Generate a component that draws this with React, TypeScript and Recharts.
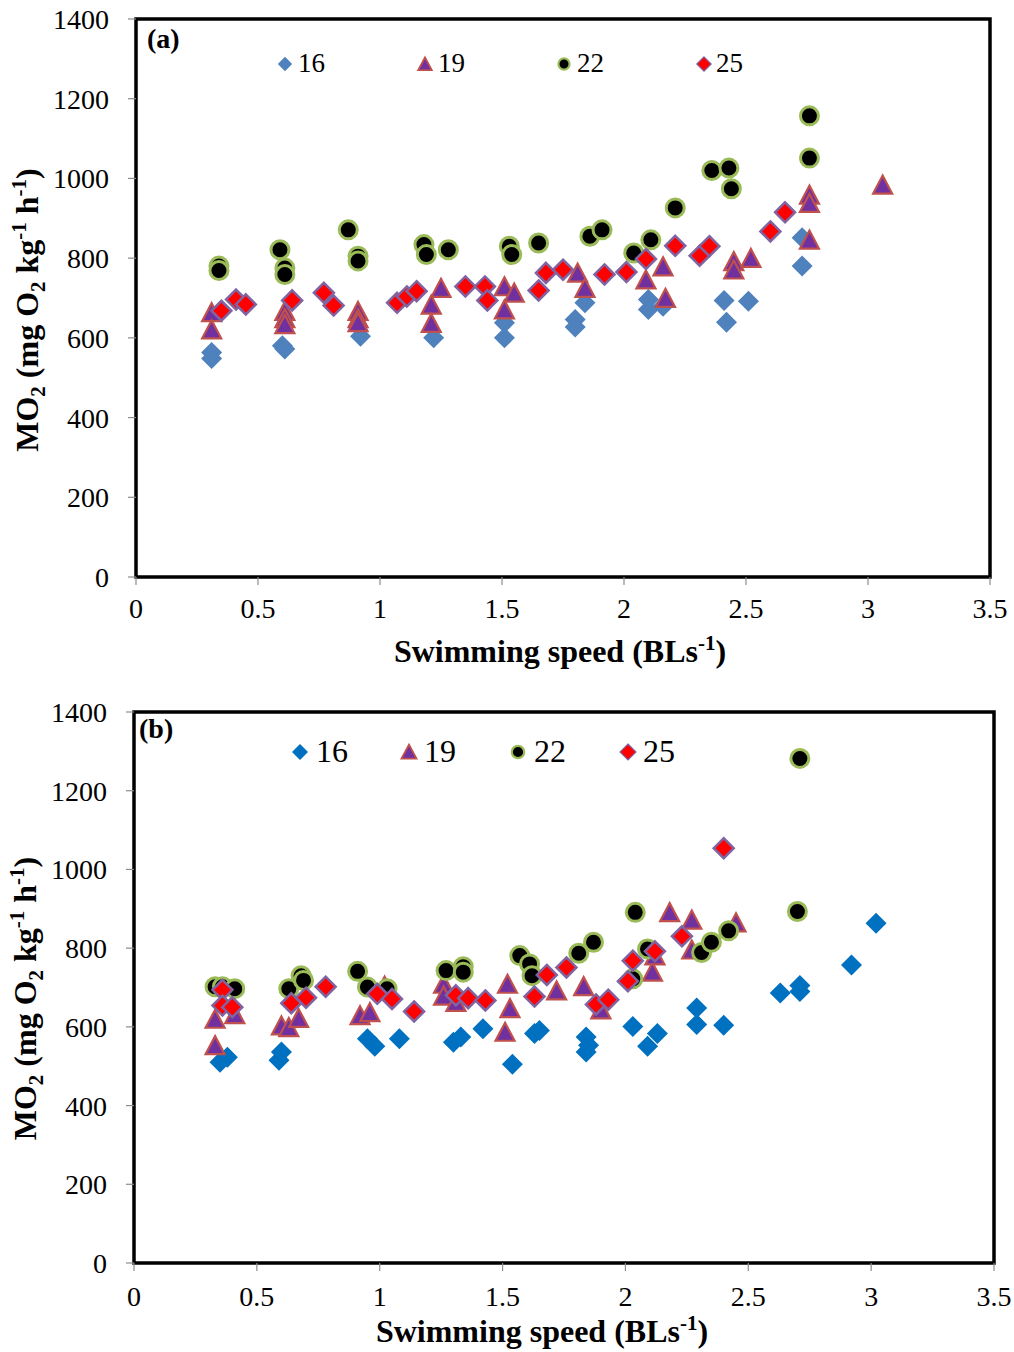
import React from 'react';
import { ScatterChart, Scatter, XAxis, YAxis, ReferenceArea, Legend } from 'recharts';

const X_TICKS = [0, 0.5, 1, 1.5, 2, 2.5, 3, 3.5];
const Y_TICKS = [0, 200, 400, 600, 800, 1000, 1200, 1400];
const SERIES_NAMES = ['16', '19', '22', '25'];

// Panel (a)
const A16 = [[0.31,563],[0.31,548],[0.60,580],[0.61,572],[0.92,604],[1.22,600],[1.51,600],[1.51,638],[1.80,646],[1.80,627],[1.84,688],[2.10,696],[2.10,671],[2.16,679],[2.41,694],[2.42,639],[2.51,692],[2.73,851],[2.73,780]];
const A19 = [[0.31,660],[0.31,617],[0.61,663],[0.61,645],[0.61,630],[0.91,663],[0.91,645],[0.91,635],[1.21,679],[1.21,633],[1.25,721],[1.51,725],[1.51,667],[1.55,709],[1.81,759],[1.84,721],[2.09,742],[2.16,775],[2.17,696],[2.45,788],[2.45,767],[2.52,796],[2.76,955],[2.76,934],[2.76,842],[3.06,980]];
const A22 = [[0.34,780],[0.34,769],[0.59,821],[0.61,775],[0.61,759],[0.87,871],[0.91,805],[0.91,793],[1.18,834],[1.19,809],[1.28,821],[1.53,830],[1.54,809],[1.65,838],[1.86,855],[1.91,871],[2.04,813],[2.11,846],[2.21,926],[2.36,1020],[2.43,1026],[2.44,974],[2.76,1157],[2.76,1051]];
const A25 = [[0.35,668],[0.41,696],[0.45,684],[0.64,694],[0.77,713],[0.81,681],[1.07,688],[1.11,704],[1.15,717],[1.35,729],[1.43,729],[1.44,694],[1.65,719],[1.68,763],[1.75,771],[1.92,759],[2.01,765],[2.09,798],[2.21,831],[2.31,806],[2.35,830],[2.60,867],[2.66,915]];

// Panel (b)
const B16 = [[0.35,510],[0.38,523],[0.59,515],[0.60,536],[0.95,570],[0.98,551],[1.08,570],[1.30,561],[1.33,574],[1.42,595],[1.54,505],[1.63,583],[1.65,591],[1.84,574],[1.85,553],[1.84,536],[2.03,601],[2.09,551],[2.13,583],[2.29,648],[2.29,606],[2.40,604],[2.63,686],[2.71,705],[2.71,690],[2.92,757],[3.02,863]];
const B19 = [[0.33,616],[0.33,549],[0.41,628],[0.60,599],[0.63,595],[0.67,618],[0.92,625],[0.96,633],[1.02,700],[1.26,705],[1.26,675],[1.31,659],[1.52,705],[1.53,643],[1.51,583],[1.72,688],[1.83,699],[1.90,640],[2.11,736],[2.12,777],[2.18,887],[2.27,868],[2.27,792],[2.45,861]];
const B22 = [[0.33,702],[0.36,702],[0.41,697],[0.63,697],[0.68,730],[0.69,718],[0.91,741],[0.95,701],[1.03,697],[1.27,743],[1.34,753],[1.34,739],[1.57,781],[1.61,760],[1.62,730],[1.81,787],[1.87,815],[2.04,891],[2.09,798],[2.03,722],[2.31,789],[2.35,815],[2.42,844],[2.70,893],[2.71,1282]];
const B25 = [[0.36,694],[0.36,654],[0.40,650],[0.64,660],[0.70,674],[0.78,702],[0.99,684],[1.05,671],[1.14,639],[1.31,680],[1.36,673],[1.43,667],[1.63,677],[1.68,732],[1.76,751],[1.88,657],[1.93,669],[2.01,716],[2.03,768],[2.12,792],[2.23,830],[2.40,1054]];

const toPts = (arr: number[][]) => arr.map(([x, y]) => ({ x, y }));

const FONT = '"Liberation Serif", "Times New Roman", serif';

const PURPLE = '#7030A0';
const TRI_STROKE = '#C0504D';
const GREEN = '#9BBB59';
const RED = '#FF0000';
const RED_STROKE = '#8064A2';

const diamondPath = (cx: number, cy: number, r: number) =>
  `M${cx},${cy - r}L${cx + r},${cy}L${cx},${cy + r}L${cx - r},${cy}Z`;
const triPath = (cx: number, cy: number, w: number, h: number) =>
  `M${cx},${cy - h * 0.6}L${cx + w / 2},${cy + h * 0.4}L${cx - w / 2},${cy + h * 0.4}Z`;

const makeBlue = (color: string) => (p: any) => (
  <path d={diamondPath(p.cx, p.cy, 10.5)} fill={color} stroke="none" />
);
const TriShape = (p: any) => (
  <path d={triPath(p.cx, p.cy, 19, 18)} fill={PURPLE} stroke={TRI_STROKE} strokeWidth={2.2} strokeLinejoin="miter" />
);
const CircShape = (p: any) => (
  <circle cx={p.cx} cy={p.cy} r={9} fill="#000" stroke={GREEN} strokeWidth={3} />
);
const RedShape = (p: any) => (
  <path d={diamondPath(p.cx, p.cy, 10)} fill={RED} stroke={RED_STROKE} strokeWidth={2.5} />
);

const TITLE_FS = 32;
const SUB_FS = 21;

const makeXTitle = (dx: number, dy: number) => (props: any) => {
  const vb = props.viewBox || { x: 0, y: 0, width: 0 };
  return (
    <text x={vb.x + vb.width / 2 + dx} y={vb.y + dy} textAnchor="middle" fontFamily={FONT} fontWeight="bold" fontSize={TITLE_FS} fill="#000">
      Swimming speed (BLs<tspan dy={-12} fontSize={SUB_FS}>-1</tspan><tspan dy={12}>)</tspan>
    </text>
  );
};

const makeYTitle = (cx: number, dy: number) => (props: any) => {
  const vb = props.viewBox || { x: 0, y: 0, height: 0 };
  const cy = vb.y + vb.height / 2 + dy;
  return (
    <text transform={`translate(${cx},${cy}) rotate(-90)`} x={0} y={0} textAnchor="middle" fontFamily={FONT} fontWeight="bold" fontSize={TITLE_FS} fill="#000">
      MO<tspan dy={7} fontSize={SUB_FS}>2</tspan><tspan dy={-7}> (mg O</tspan><tspan dy={7} fontSize={SUB_FS}>2</tspan><tspan dy={-7}> kg</tspan><tspan dy={-12} fontSize={SUB_FS}>-1</tspan><tspan dy={12}> h</tspan><tspan dy={-12} fontSize={SUB_FS}>-1</tspan><tspan dy={12}>)</tspan>
    </text>
  );
};

type LegendCfg = {
  panel: string;
  panelPos: [number, number];
  fontSize: number;
  y: number;
  items: number[]; // marker center x
  textX: number[];
  blue: string;
  ms: number;
};

const makeLegend = (cfg: LegendCfg) => () => {
  const s = cfg.ms;
  const icons = [
    <path d={diamondPath(s, s, s * 0.8)} fill={cfg.blue} />,
    <path d={triPath(s, s + 1, s * 1.5, s * 1.4)} fill={PURPLE} stroke={TRI_STROKE} strokeWidth={1.8} />,
    <circle cx={s} cy={s} r={s * 0.62} fill="#000" stroke={GREEN} strokeWidth={2.2} />,
    <path d={diamondPath(s, s, s * 0.8)} fill={RED} stroke={RED_STROKE} strokeWidth={1.2} />,
  ];
  return (
    <div style={{ position: 'relative', width: 0, height: 0 }}>
      <div style={{ position: 'absolute', left: cfg.panelPos[0], top: cfg.panelPos[1], fontFamily: FONT, fontWeight: 'bold', fontSize: 28, lineHeight: '28px', whiteSpace: 'nowrap' }}>
        {cfg.panel}
      </div>
      {SERIES_NAMES.map((n, i) => (
        <React.Fragment key={n}>
          <svg width={s * 2} height={s * 2} style={{ position: 'absolute', left: cfg.items[i] - s, top: cfg.y - s }}>
            {icons[i]}
          </svg>
          <div style={{ position: 'absolute', left: cfg.textX[i], top: cfg.y - cfg.fontSize / 2 - 1, fontFamily: FONT, fontSize: cfg.fontSize, lineHeight: `${cfg.fontSize}px`, whiteSpace: 'nowrap' }}>
            {n}
          </div>
        </React.Fragment>
      ))}
    </div>
  );
};

type PanelProps = {
  top: number;
  height: number;
  margin: { top: number; right: number; bottom: number; left: number };
  yWidth: number;
  s16: number[][];
  s19: number[][];
  s22: number[][];
  s25: number[][];
  blue: string;
  legend: LegendCfg;
  xTitle: [number, number];
  yTitle: [number, number];
  xTickMargin: number;
};

const tickStyle = { fontFamily: FONT, fontSize: 28, fill: '#000' };

const Panel = (p: PanelProps) => {
  const XT = makeXTitle(p.xTitle[0], p.xTitle[1]);
  const YT = makeYTitle(p.yTitle[0], p.yTitle[1]);
  return (
    <div style={{ position: 'absolute', left: 0, top: p.top }}>
      <ScatterChart width={1014} height={p.height} margin={p.margin}>
        <XAxis
          type="number"
          dataKey="x"
          domain={[0, 3.5]}
          ticks={X_TICKS}
          tickFormatter={(v: number) => String(v)}
          tick={tickStyle}
          tickSize={8}
          tickMargin={p.xTickMargin}
          tickLine={{ stroke: '#8c8c8c', strokeWidth: 1.2 }}
          axisLine={{ stroke: '#000', strokeWidth: 1 }}
          height={60}
          allowDataOverflow
          label={{ content: (lp: any) => <XT {...lp} /> }}
        />
        <YAxis
          type="number"
          dataKey="y"
          domain={[0, 1400]}
          ticks={Y_TICKS}
          tick={tickStyle}
          tickSize={8}
          tickMargin={19}
          tickLine={{ stroke: '#8c8c8c', strokeWidth: 1.2 }}
          axisLine={{ stroke: '#000', strokeWidth: 1 }}
          width={p.yWidth}
          allowDataOverflow
          label={{ content: (lp: any) => <YT {...lp} /> }}
        />
        <Legend
          verticalAlign="top"
          content={makeLegend(p.legend)}
          wrapperStyle={{ position: 'absolute', left: 0, top: 0, width: 0, height: 0, margin: 0, padding: 0 }}
        />
        <ReferenceArea x1={0} x2={3.5} y1={0} y2={1400} fill="none" fillOpacity={0} stroke="#000" strokeWidth={3.5} ifOverflow="visible" />
        <Scatter name="16" data={toPts(p.s16)} shape={makeBlue(p.blue)} isAnimationActive={false} legendType="none" />
        <Scatter name="19" data={toPts(p.s19)} shape={TriShape} isAnimationActive={false} legendType="none" />
        <Scatter name="22" data={toPts(p.s22)} shape={CircShape} isAnimationActive={false} legendType="none" />
        <Scatter name="25" data={toPts(p.s25)} shape={RedShape} isAnimationActive={false} legendType="none" />
      </ScatterChart>
    </div>
  );
};

export default function App() {
  return (
    <div style={{ position: 'absolute', left: 0, top: 0, width: 1014, height: 1352, background: '#fff' }}>
      <Panel
        top={0}
        height={680}
        margin={{ top: 19, right: 24, bottom: 43, left: 0 }}
        yWidth={136}
        s16={A16}
        s19={A19}
        s22={A22}
        s25={A25}
        blue="#4F81BD"
        xTitle={[-3, 85]}
        yTitle={[38, 12]}
        xTickMargin={13}
        legend={{
          panel: '(a)',
          panelPos: [147, 25],
          fontSize: 27,
          y: 64,
          items: [285, 425, 564, 704],
          textX: [298, 438, 577, 716],
          blue: '#4F81BD',
          ms: 9,
        }}
      />
      <Panel
        top={680}
        height={672}
        margin={{ top: 32, right: 20, bottom: 29, left: 0 }}
        yWidth={134}
        s16={B16}
        s19={B19}
        s22={B22}
        s25={B25}
        blue="#0070C0"
        xTitle={[-22, 79]}
        yTitle={[36, 11]}
        xTickMargin={15}
        legend={{
          panel: '(b)',
          panelPos: [139, 35],
          fontSize: 32,
          y: 72,
          items: [300, 409, 518, 628],
          textX: [316, 424, 534, 643],
          blue: '#0070C0',
          ms: 10,
        }}
      />
    </div>
  );
}
